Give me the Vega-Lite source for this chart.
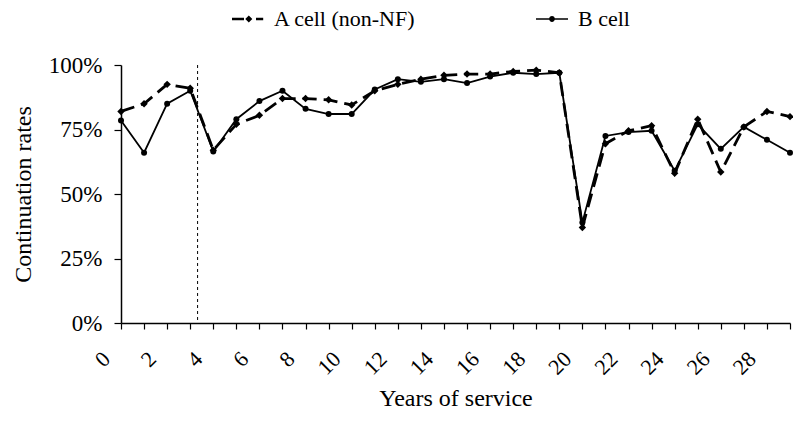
{
  "$schema": "https://vega.github.io/schema/vega-lite/v6.json",
  "width": 669,
  "height": 258,
  "autosize": {"type": "none"},
  "padding": {"left": 121, "top": 65, "right": 3, "bottom": 105},
  "background": "white",
  "config": {
    "view": {"stroke": null},
    "font": "Liberation Serif",
    "legend": {"labelFont": "Liberation Serif", "labelFontSize": 22, "labelColor": "black"},
    "axis": {"grid": false, "domainColor": "black", "tickColor": "black", "labelColor": "black", "titleColor": "black", "titleFontWeight": "normal", "labelFont": "Liberation Serif", "titleFont": "Liberation Serif"}
  },
  "datasets": {
    "rates": [
      {"year": 0, "series": "A cell (non-NF)", "value": 0.82},
      {"year": 1, "series": "A cell (non-NF)", "value": 0.85},
      {"year": 2, "series": "A cell (non-NF)", "value": 0.925},
      {"year": 3, "series": "A cell (non-NF)", "value": 0.91},
      {"year": 4, "series": "A cell (non-NF)", "value": 0.67},
      {"year": 5, "series": "A cell (non-NF)", "value": 0.77},
      {"year": 6, "series": "A cell (non-NF)", "value": 0.805},
      {"year": 7, "series": "A cell (non-NF)", "value": 0.87},
      {"year": 8, "series": "A cell (non-NF)", "value": 0.87},
      {"year": 9, "series": "A cell (non-NF)", "value": 0.865},
      {"year": 10, "series": "A cell (non-NF)", "value": 0.845},
      {"year": 11, "series": "A cell (non-NF)", "value": 0.90},
      {"year": 12, "series": "A cell (non-NF)", "value": 0.925},
      {"year": 13, "series": "A cell (non-NF)", "value": 0.945},
      {"year": 14, "series": "A cell (non-NF)", "value": 0.96},
      {"year": 15, "series": "A cell (non-NF)", "value": 0.965},
      {"year": 16, "series": "A cell (non-NF)", "value": 0.965},
      {"year": 17, "series": "A cell (non-NF)", "value": 0.975},
      {"year": 18, "series": "A cell (non-NF)", "value": 0.98},
      {"year": 19, "series": "A cell (non-NF)", "value": 0.97},
      {"year": 20, "series": "A cell (non-NF)", "value": 0.37},
      {"year": 21, "series": "A cell (non-NF)", "value": 0.695},
      {"year": 22, "series": "A cell (non-NF)", "value": 0.745},
      {"year": 23, "series": "A cell (non-NF)", "value": 0.765},
      {"year": 24, "series": "A cell (non-NF)", "value": 0.58},
      {"year": 25, "series": "A cell (non-NF)", "value": 0.79},
      {"year": 26, "series": "A cell (non-NF)", "value": 0.585},
      {"year": 27, "series": "A cell (non-NF)", "value": 0.76},
      {"year": 28, "series": "A cell (non-NF)", "value": 0.82},
      {"year": 29, "series": "A cell (non-NF)", "value": 0.80},
      {"year": 0, "series": "B cell", "value": 0.785},
      {"year": 1, "series": "B cell", "value": 0.66},
      {"year": 2, "series": "B cell", "value": 0.85},
      {"year": 3, "series": "B cell", "value": 0.90},
      {"year": 4, "series": "B cell", "value": 0.665},
      {"year": 5, "series": "B cell", "value": 0.79},
      {"year": 6, "series": "B cell", "value": 0.86},
      {"year": 7, "series": "B cell", "value": 0.90},
      {"year": 8, "series": "B cell", "value": 0.83},
      {"year": 9, "series": "B cell", "value": 0.81},
      {"year": 10, "series": "B cell", "value": 0.81},
      {"year": 11, "series": "B cell", "value": 0.905},
      {"year": 12, "series": "B cell", "value": 0.945},
      {"year": 13, "series": "B cell", "value": 0.935},
      {"year": 14, "series": "B cell", "value": 0.945},
      {"year": 15, "series": "B cell", "value": 0.93},
      {"year": 16, "series": "B cell", "value": 0.955},
      {"year": 17, "series": "B cell", "value": 0.97},
      {"year": 18, "series": "B cell", "value": 0.965},
      {"year": 19, "series": "B cell", "value": 0.97},
      {"year": 20, "series": "B cell", "value": 0.39},
      {"year": 21, "series": "B cell", "value": 0.725},
      {"year": 22, "series": "B cell", "value": 0.74},
      {"year": 23, "series": "B cell", "value": 0.745},
      {"year": 24, "series": "B cell", "value": 0.59},
      {"year": 25, "series": "B cell", "value": 0.77},
      {"year": 26, "series": "B cell", "value": 0.675},
      {"year": 27, "series": "B cell", "value": 0.76},
      {"year": 28, "series": "B cell", "value": 0.71},
      {"year": 29, "series": "B cell", "value": 0.66}
    ]
  },
  "encoding": {
    "x": {
      "field": "year",
      "type": "quantitative",
      "scale": {"domain": [0, 29], "nice": false, "zero": false},
      "axis": {
        "title": "Years of service",
        "values": [0,1,2,3,4,5,6,7,8,9,10,11,12,13,14,15,16,17,18,19,20,21,22,23,24,25,26,27,28,29],
        "labelExpr": "datum.value % 2 === 0 ? datum.label : ''",
        "format": "d",
        "labelAngle": -45,
        "labelAlign": "right",
        "labelBaseline": "middle",
        "labelOffset": -15,
        "labelPadding": 26,
        "labelFontSize": 22,
        "labelFlush": false,
        "labelOverlap": false,
        "tickSize": 6,
        "tickWidth": 1.2,
        "domainWidth": 1.5,
        "titleFontSize": 24,
        "titlePadding": 8
      }
    },
    "y": {"field": "value", "type": "quantitative", "scale": {"domain": [0, 1], "nice": false},
      "axis": {"title": "Continuation rates", "values": [0, 0.25, 0.5, 0.75, 1], "format": ".0%", "labelFontSize": 23, "labelPadding": 12, "tickSize": 7, "tickWidth": 1.2, "domainWidth": 1.5, "titleFontSize": 24, "titlePadding": 13}}
  },
  "layer": [
    {
      "data": {"values": [{"year": 3.32}]},
      "mark": {"type": "rule", "strokeDash": [3, 3], "strokeWidth": 1, "color": "black"},
      "encoding": {"y": null}
    },
    {
      "data": {"name": "rates"},
      "transform": [{"filter": "datum.series === 'A cell (non-NF)'"}],
      "mark": {"type": "line", "strokeDash": [14, 7], "strokeWidth": 2.8, "color": "black"}
    },
    {
      "data": {"name": "rates"},
      "transform": [{"filter": "datum.series === 'B cell'"}],
      "mark": {"type": "line", "strokeWidth": 1.8, "color": "black"}
    },
    {
      "data": {"name": "rates"},
      "transform": [{"filter": "datum.series === 'A cell (non-NF)'"}],
      "mark": {"type": "point", "shape": "diamond", "filled": true, "opacity": 1, "color": "black", "size": 55}
    },
    {
      "data": {"name": "rates"},
      "transform": [{"filter": "datum.series === 'B cell'"}],
      "mark": {"type": "point", "shape": "circle", "filled": true, "opacity": 1, "color": "black", "size": 36}
    },
    {
      "data": {"name": "rates"},
      "transform": [{"filter": "false"}],
      "mark": {"type": "point", "filled": true, "opacity": 1, "color": "black"},
      "encoding": {
        "shape": {
          "field": "series",
          "type": "nominal",
          "scale": {
            "domain": ["A cell (non-NF)", "B cell"],
            "range": [
              "M-1,-0.08L-0.25,-0.08L-0.25,0.08L-1,0.08ZM0.05,-0.22L0.27,0L0.05,0.22L-0.17,0ZM0.5,-0.08L0.95,-0.08L0.95,0.08L0.5,0.08Z",
              "M-1,-0.05L1,-0.05L1,0.05L-1,0.05ZM0.18,0A0.18,0.18 0 1 1 -0.18,0A0.18,0.18 0 1 1 0.18,0Z"
            ]
          },
          "legend": {
            "title": null,
            "orient": "none",
            "legendX": 111,
            "legendY": -62,
            "direction": "horizontal",
            "columns": 2,
            "columnPadding": 120,
            "labelFont": "Liberation Serif",
            "labelFontSize": 22,
            "labelColor": "black",
            "labelOffset": 10,
            "labelLimit": 400,
            "symbolSize": 1024,
            "symbolStrokeWidth": 0,
            "symbolFillColor": "black",
            "symbolOpacity": 1
          }
        }
      }
    }
  ]
}
